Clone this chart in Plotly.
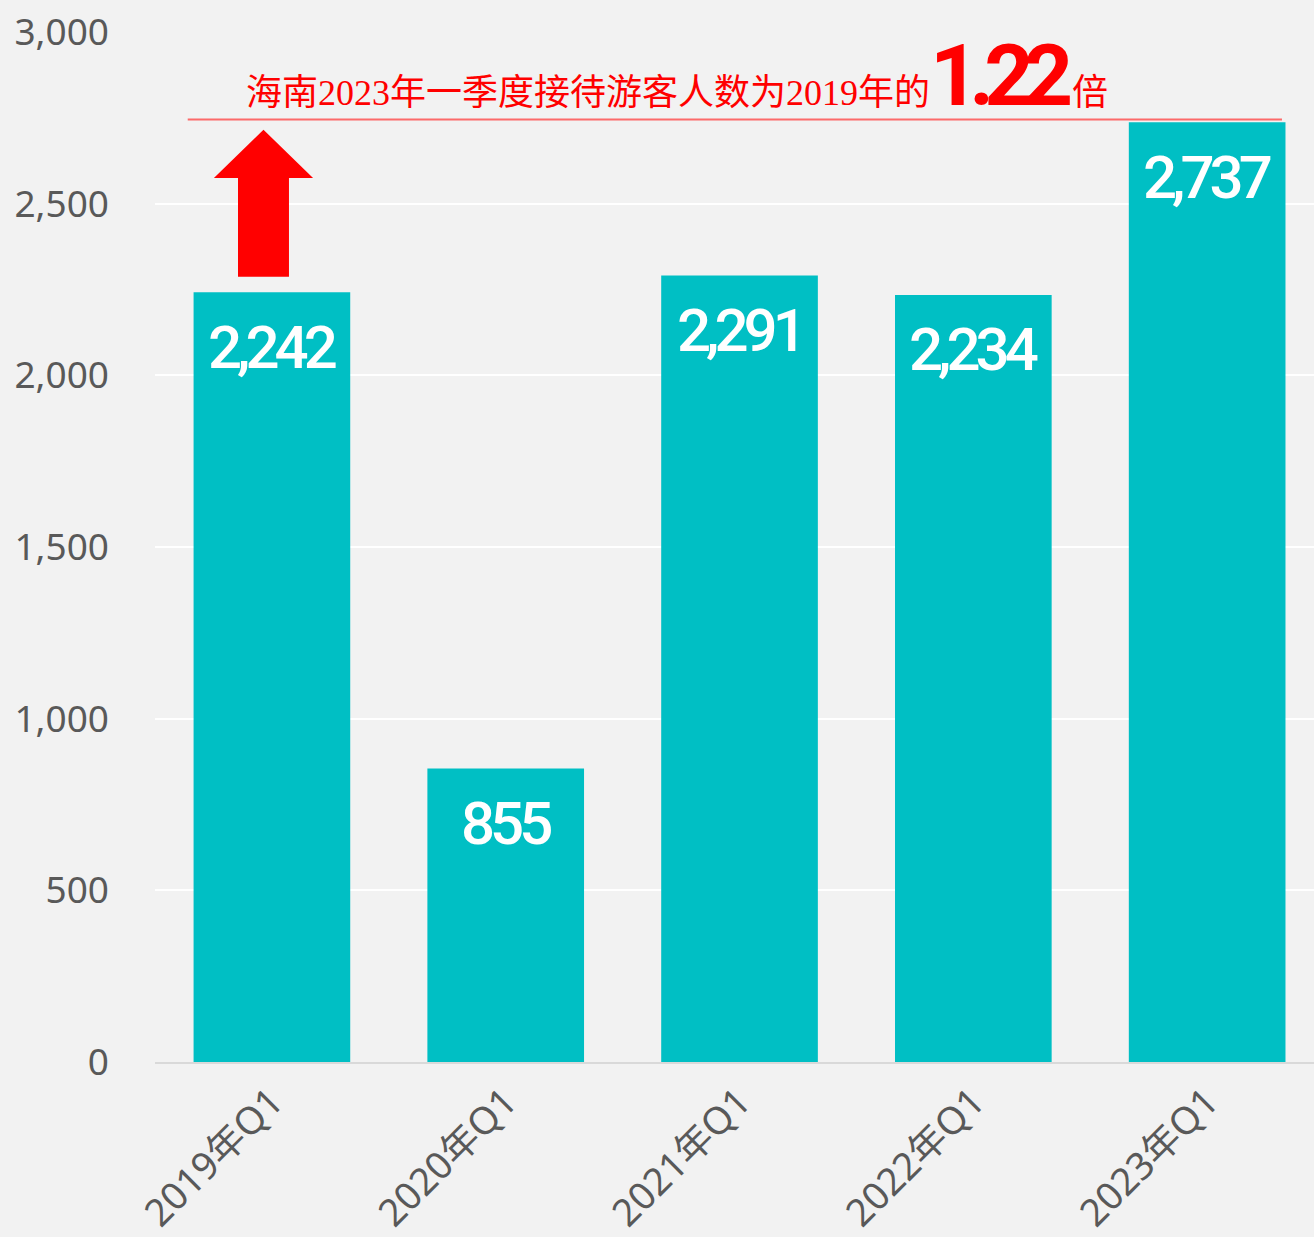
import plotly.graph_objects as go

quarters = ['2019年Q1', '2020年Q1', '2021年Q1', '2022年Q1', '2023年Q1']
visitors = [2242, 855, 2291, 2234, 2737]
y_ticks = [0, 500, 1000, 1500, 2000, 2500, 3000]
ratio = '1.22'

teal = '#00BFC4'
bg = '#F2F2F2'
grey_txt = '#595959'
num_font = 'Roboto'

xs = list(range(len(quarters)))

fig = go.Figure()
fig.add_trace(go.Bar(x=xs, y=visitors, width=0.67, marker=dict(color=teal, line=dict(width=0)),
                     hoverinfo='skip'))

# value labels inside the top of each bar (tight spacing to mimic a condensed face)
for x, v in zip(xs, visitors):
    fig.add_annotation(x=x, y=v, text=f'<span style="letter-spacing:-5px;font-weight:500">{v:,}</span>',
                       showarrow=False, yanchor='middle', yshift=-55,
                       font=dict(family=num_font, size=60, color='white'))

# red headline + rule under it
top = max(visitors)
fig.add_shape(type='line', xref='x', yref='y', x0=-0.36, x1=4.32, y0=top + 8, y1=top + 8,
              line=dict(color='rgba(255,60,60,0.75)', width=2))
fig.add_annotation(
    xref='x', yref='y', x=-0.12, y=top + 8, xanchor='left', yanchor='bottom', yshift=-8,
    showarrow=False,
    text=('海南2023年一季度接待游客人数为2019年的'
          f'<span style="font-family:Roboto;font-size:86px;font-weight:bold;letter-spacing:-10px">{ratio}</span>'
          '<span style="letter-spacing:0px"> </span>倍'),
    font=dict(family='Liberation Serif, Noto Sans CJK SC', size=36, color='#FF0000'))

# block arrow over the 2019 bar
cx = -0.036
y_base = visitors[0] + 45
y_neck = visitors[0] + 333
y_tip = visitors[0] + 473
sw, hw = 0.109, 0.212
fig.add_shape(type='path', xref='x', yref='y', fillcolor='#FF0000', line=dict(width=0),
              path=(f'M {cx-sw},{y_base} L {cx+sw},{y_base} L {cx+sw},{y_neck} L {cx+hw},{y_neck} '
                    f'L {cx},{y_tip} L {cx-hw},{y_neck} L {cx-sw},{y_neck} Z'))

fig.update_layout(
    width=1314, height=1237,
    margin=dict(l=155, r=0, t=32, b=173),
    paper_bgcolor=bg, plot_bgcolor=bg,
    showlegend=False,
    font=dict(family='Noto Sans, Noto Sans CJK SC', color=grey_txt),
    xaxis=dict(range=[-0.5, 4.457], tickvals=xs, ticktext=quarters, tickangle=-45,
               showgrid=False, zeroline=False, showline=True, linecolor='#D9D9D9', linewidth=2,
               ticks='', tickfont=dict(size=38, color=grey_txt)),
    yaxis=dict(range=[0, 3000], tickvals=y_ticks, tickformat=',', showgrid=True,
               gridcolor='white', gridwidth=2, zeroline=False, showline=False, ticks='',
               ticklabelstandoff=45, ticklabeloverflow='allow',
               tickfont=dict(size=37, color=grey_txt)),
)

# drop the page's default body margin so the chart fills the window
fig.write_html('out.html', config={'displayModeBar': False},
               post_script="document.body.style.margin='0';document.body.style.background='#F2F2F2';")
